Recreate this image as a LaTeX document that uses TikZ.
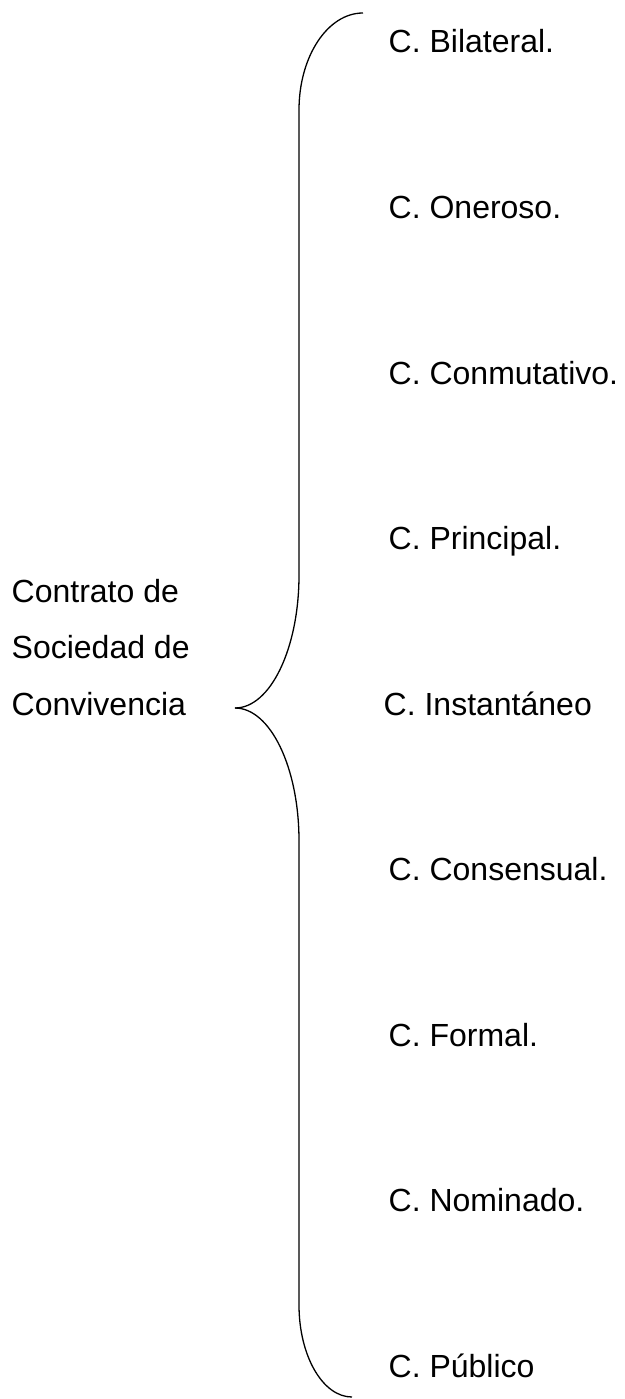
\documentclass[tikz,border=0pt]{standalone}
\usepackage{fontspec}
\setmainfont{Liberation Sans}
\usetikzlibrary{positioning}

\begin{document}
\begin{tikzpicture}[x=1pt, y=-1pt,
    item_label/.style ={anchor=base west, inner sep=0pt,
      font=\fontsize{32}{37}\selectfont},
    root_label/.style ={anchor=base west, inner sep=0pt,
      font=\fontsize{32}{37}\selectfont},
    brace_line/.style ={draw=black, line width=1.3pt}]
    \useasboundingbox (0,0) rectangle (624,1399);
    % root text, three lines
    \node [root_label] (root1) at (11.5,602) {Contrato de};
    \node [root_label] (root2) at (11.5,658.5) {Sociedad de};
    \node [root_label] (root3) at (11.5,715) {Convivencia};
    % the kinds of contract
    \node [item_label] (bilateral) at (388.5,53) {C. Bilateral.};
    \node [item_label] (oneroso) at (388.5,218.5) {C. Oneroso.};
    \node [item_label] (conmutativo) at (388.5,384) {C. Conmutativo.};
    \node [item_label] (principal) at (388.5,549.5) {C. Principal.};
    \node [item_label] (instantaneo) at (383.5,715) {C. Instantáneo};
    \node [item_label] (consensual) at (388.5,880.5) {C. Consensual.};
    \node [item_label] (formal) at (388.5,1046) {C. Formal.};
    \node [item_label] (nominado) at (388.5,1211.5) {C. Nominado.};
    \node [item_label] (publico) at (388.5,1377) {C. Público};
    % the brace
    \coordinate (brace_top) at (363,13);
    \coordinate (brace_tip) at (235,708);
    \coordinate (brace_bottom) at (352,1397);
    \path [brace_line] (brace_top)
      arc [start angle=90, end angle=180, x radius=64, y radius=-97]
      -- (299,575)
      arc [start angle=0, end angle=-90, x radius=64, y radius=-133]
      -- (brace_tip);
    \path [brace_line] (brace_tip)
      arc [start angle=90, end angle=0, x radius=64, y radius=-133]
      -- (299,1305)
      arc [start angle=180, end angle=270, x radius=53, y radius=-92]
      -- (brace_bottom);
\end{tikzpicture}
\end{document}
